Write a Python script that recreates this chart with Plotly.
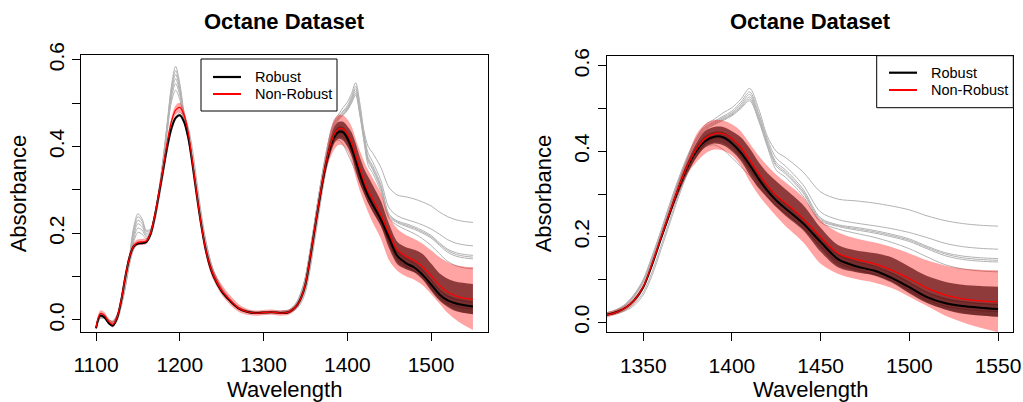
import plotly.graph_objects as go

# ---------------- data ----------------
WAVELENGTH = [1100, 1105, 1110, 1115, 1120, 1125, 1130, 1135, 1140, 1145,
              1150, 1155, 1160, 1165, 1170, 1175, 1180, 1185, 1190, 1195,
              1200, 1205, 1210, 1215, 1220, 1225, 1230, 1235, 1240, 1250,
              1260, 1270, 1280, 1290, 1300, 1310, 1320, 1330, 1335, 1340,
              1345, 1350, 1355, 1360, 1365, 1370, 1375, 1380, 1385, 1390,
              1395, 1400, 1405, 1410, 1415, 1420, 1425, 1430, 1440, 1450,
              1460, 1470, 1480, 1490, 1500, 1510, 1520, 1530, 1540, 1550]

ROBUST_MEAN = [-0.019, 0.010, 0.006, -0.007, -0.013, 0.004, 0.045, 0.100, 0.145, 0.170,
               0.176, 0.177, 0.180, 0.198, 0.238, 0.290, 0.345, 0.400, 0.442, 0.466,
               0.472, 0.457, 0.421, 0.360, 0.290, 0.225, 0.170, 0.130, 0.102, 0.066,
               0.044, 0.027, 0.019, 0.016, 0.017, 0.018, 0.016, 0.018, 0.024, 0.034,
               0.052, 0.082, 0.135, 0.196, 0.256, 0.314, 0.364, 0.401, 0.424, 0.434,
               0.433, 0.419, 0.397, 0.368, 0.336, 0.308, 0.285, 0.267, 0.232, 0.188,
               0.147, 0.131, 0.121, 0.104, 0.082, 0.059, 0.045, 0.038, 0.034, 0.031]

NONROBUST_MEAN = [-0.017, 0.015, 0.011, -0.003, -0.010, 0.006, 0.046, 0.100, 0.145, 0.171,
                  0.179, 0.180, 0.182, 0.200, 0.240, 0.293, 0.350, 0.410, 0.458, 0.484,
                  0.490, 0.473, 0.432, 0.366, 0.293, 0.226, 0.171, 0.131, 0.104, 0.068,
                  0.046, 0.028, 0.019, 0.016, 0.017, 0.018, 0.016, 0.018, 0.024, 0.034,
                  0.052, 0.083, 0.137, 0.198, 0.258, 0.316, 0.367, 0.405, 0.430, 0.441,
                  0.441, 0.430, 0.410, 0.380, 0.349, 0.321, 0.297, 0.280, 0.243, 0.200,
                  0.161, 0.147, 0.137, 0.122, 0.102, 0.080, 0.064, 0.055, 0.050, 0.048]

NONROBUST_UPPER = [-0.010, 0.022, 0.018, 0.004, -0.003, 0.013, 0.053, 0.107, 0.152, 0.178,
                   0.186, 0.187, 0.189, 0.207, 0.247, 0.300, 0.357, 0.418, 0.467, 0.495,
                   0.501, 0.484, 0.442, 0.376, 0.303, 0.236, 0.182, 0.143, 0.116, 0.082,
                   0.057, 0.037, 0.026, 0.022, 0.023, 0.024, 0.022, 0.024, 0.030, 0.040,
                   0.059, 0.090, 0.145, 0.207, 0.269, 0.331, 0.387, 0.440, 0.464, 0.473,
                   0.472, 0.463, 0.447, 0.418, 0.390, 0.366, 0.345, 0.328, 0.293, 0.238,
                   0.210, 0.196, 0.187, 0.176, 0.161, 0.145, 0.133, 0.126, 0.123, 0.122]

NONROBUST_LOWER = [-0.024, 0.008, 0.004, -0.010, -0.017, -0.001, 0.039, 0.093, 0.138, 0.164,
                   0.172, 0.173, 0.175, 0.193, 0.233, 0.286, 0.343, 0.402, 0.449, 0.473,
                   0.479, 0.462, 0.422, 0.356, 0.283, 0.216, 0.160, 0.119, 0.092, 0.058,
                   0.035, 0.019, 0.012, 0.010, 0.011, 0.012, 0.010, 0.012, 0.018, 0.028,
                   0.045, 0.076, 0.129, 0.189, 0.247, 0.301, 0.347, 0.375, 0.395, 0.404,
                   0.402, 0.390, 0.366, 0.330, 0.298, 0.272, 0.248, 0.226, 0.188, 0.137,
                   0.113, 0.101, 0.093, 0.080, 0.060, 0.038, 0.016, 0.000, -0.013, -0.023]

BAND_WL = [1360, 1365, 1370, 1375, 1380, 1385, 1390, 1395, 1400, 1405,
           1410, 1415, 1420, 1425, 1430, 1440, 1450, 1460, 1470, 1480,
           1490, 1500, 1510, 1520, 1530, 1540, 1550]

ROBUST_OUTER_UPPER = [0.200, 0.262, 0.323, 0.377, 0.420, 0.448, 0.457, 0.457, 0.447, 0.433,
                      0.407, 0.375, 0.349, 0.330, 0.312, 0.275, 0.221, 0.180, 0.168, 0.162,
                      0.152, 0.130, 0.108, 0.095, 0.088, 0.085, 0.083]
ROBUST_OUTER_LOWER = [0.191, 0.249, 0.303, 0.350, 0.385, 0.410, 0.418, 0.414, 0.400, 0.378,
                      0.344, 0.314, 0.291, 0.269, 0.250, 0.216, 0.165, 0.128, 0.117, 0.110,
                      0.094, 0.068, 0.045, 0.030, 0.020, 0.016, 0.013]
ROBUST_INNER_UPPER = [0.199, 0.260, 0.319, 0.370, 0.412, 0.437, 0.446, 0.445, 0.432, 0.410,
                      0.381, 0.349, 0.321, 0.298, 0.280, 0.245, 0.201, 0.160, 0.144, 0.133,
                      0.117, 0.095, 0.072, 0.058, 0.050, 0.046, 0.044]
ROBUST_INNER_LOWER = [0.193, 0.252, 0.308, 0.356, 0.392, 0.413, 0.421, 0.419, 0.405, 0.383,
                      0.352, 0.320, 0.295, 0.272, 0.254, 0.219, 0.172, 0.132, 0.119, 0.109,
                      0.092, 0.068, 0.046, 0.031, 0.022, 0.016, 0.013]

SPECTRUM_1 = [-0.015, 0.005, 0.006, 0.000, -0.002, 0.012, 0.038, 0.080, 0.148, 0.215,
              0.245, 0.233, 0.207, 0.210, 0.245, 0.300, 0.372, 0.455, 0.540, 0.585,
              0.545, 0.478, 0.430, 0.370, 0.305, 0.243, 0.190, 0.148, 0.115, 0.074,
              0.048, 0.030, 0.022, 0.019, 0.019, 0.020, 0.020, 0.023, 0.030, 0.043,
              0.066, 0.100, 0.155, 0.215, 0.278, 0.337, 0.390, 0.432, 0.462, 0.475,
              0.490, 0.502, 0.522, 0.547, 0.500, 0.435, 0.400, 0.386, 0.352, 0.305,
              0.288, 0.284, 0.279, 0.272, 0.263, 0.249, 0.238, 0.231, 0.227, 0.225]
SPECTRUM_2 = [-0.016, 0.004, 0.006, 0.000, -0.003, 0.011, 0.037, 0.080, 0.146, 0.208,
              0.238, 0.228, 0.204, 0.208, 0.243, 0.298, 0.370, 0.452, 0.533, 0.575,
              0.538, 0.474, 0.428, 0.368, 0.303, 0.241, 0.188, 0.147, 0.114, 0.073,
              0.047, 0.030, 0.022, 0.019, 0.019, 0.020, 0.020, 0.023, 0.030, 0.042,
              0.065, 0.099, 0.153, 0.213, 0.276, 0.335, 0.388, 0.430, 0.458, 0.470,
              0.482, 0.494, 0.515, 0.539, 0.490, 0.428, 0.384, 0.366, 0.322, 0.258,
              0.240, 0.232, 0.226, 0.219, 0.210, 0.198, 0.185, 0.177, 0.173, 0.171]
SPECTRUM_3 = [-0.016, 0.005, 0.005, -0.001, -0.004, 0.010, 0.036, 0.078, 0.143, 0.202,
              0.230, 0.222, 0.200, 0.205, 0.241, 0.296, 0.367, 0.448, 0.527, 0.566,
              0.532, 0.470, 0.425, 0.366, 0.301, 0.240, 0.187, 0.146, 0.113, 0.073,
              0.047, 0.029, 0.021, 0.019, 0.019, 0.019, 0.019, 0.022, 0.029, 0.041,
              0.064, 0.098, 0.152, 0.212, 0.275, 0.334, 0.386, 0.428, 0.456, 0.468,
              0.479, 0.490, 0.510, 0.533, 0.484, 0.422, 0.374, 0.357, 0.312, 0.244,
              0.228, 0.222, 0.215, 0.206, 0.195, 0.178, 0.163, 0.155, 0.151, 0.149]
SPECTRUM_4 = [-0.017, 0.004, 0.005, -0.001, -0.004, 0.009, 0.035, 0.078, 0.140, 0.195,
              0.222, 0.215, 0.196, 0.202, 0.238, 0.293, 0.364, 0.444, 0.520, 0.556,
              0.525, 0.466, 0.422, 0.364, 0.300, 0.239, 0.186, 0.145, 0.112, 0.072,
              0.046, 0.029, 0.021, 0.018, 0.018, 0.019, 0.019, 0.022, 0.028, 0.040,
              0.063, 0.096, 0.150, 0.210, 0.273, 0.332, 0.384, 0.426, 0.454, 0.466,
              0.476, 0.487, 0.506, 0.527, 0.479, 0.418, 0.369, 0.352, 0.307, 0.241,
              0.226, 0.219, 0.212, 0.203, 0.192, 0.175, 0.160, 0.151, 0.147, 0.145]
SPECTRUM_5 = [-0.017, 0.004, 0.004, -0.002, -0.005, 0.008, 0.034, 0.079, 0.138, 0.188,
              0.212, 0.207, 0.192, 0.200, 0.236, 0.291, 0.361, 0.440, 0.512, 0.545,
              0.518, 0.462, 0.419, 0.362, 0.298, 0.237, 0.185, 0.144, 0.111, 0.072,
              0.046, 0.029, 0.021, 0.018, 0.018, 0.019, 0.019, 0.022, 0.028, 0.040,
              0.062, 0.095, 0.149, 0.209, 0.272, 0.331, 0.383, 0.425, 0.452, 0.464,
              0.474, 0.485, 0.503, 0.522, 0.475, 0.414, 0.365, 0.348, 0.303, 0.238,
              0.224, 0.216, 0.209, 0.200, 0.189, 0.172, 0.156, 0.147, 0.143, 0.141]
SPECTRUM_6 = [-0.018, 0.004, 0.004, -0.002, -0.006, 0.007, 0.034, 0.080, 0.137, 0.180,
              0.202, 0.198, 0.188, 0.198, 0.234, 0.289, 0.358, 0.435, 0.503, 0.530,
              0.508, 0.458, 0.416, 0.360, 0.297, 0.236, 0.184, 0.143, 0.111, 0.071,
              0.046, 0.028, 0.020, 0.018, 0.018, 0.018, 0.018, 0.021, 0.027, 0.039,
              0.061, 0.094, 0.148, 0.208, 0.271, 0.330, 0.382, 0.424, 0.450, 0.462,
              0.472, 0.483, 0.500, 0.518, 0.472, 0.410, 0.356, 0.340, 0.296, 0.234,
              0.218, 0.208, 0.199, 0.187, 0.172, 0.153, 0.135, 0.125, 0.120, 0.118]
SPECTRUM_7 = [-0.020, 0.008, 0.004, -0.009, -0.014, 0.000, 0.035, 0.085, 0.135, 0.165,
              0.175, 0.176, 0.178, 0.192, 0.228, 0.278, 0.333, 0.390, 0.435, 0.462,
              0.470, 0.462, 0.435, 0.380, 0.310, 0.242, 0.185, 0.140, 0.108, 0.070,
              0.046, 0.028, 0.019, 0.016, 0.016, 0.017, 0.016, 0.017, 0.021, 0.029,
              0.044, 0.070, 0.118, 0.178, 0.240, 0.300, 0.352, 0.390, 0.410, 0.415,
              0.404, 0.385, 0.364, 0.343, 0.318, 0.294, 0.272, 0.255, 0.222, 0.178,
              0.140, 0.124, 0.113, 0.097, 0.075, 0.052, 0.038, 0.031, 0.027, 0.025]
SPECTRUM_8 = [-0.017, 0.012, 0.009, -0.004, -0.010, 0.008, 0.050, 0.105, 0.150, 0.173,
              0.178, 0.179, 0.183, 0.204, 0.245, 0.298, 0.352, 0.405, 0.445, 0.468,
              0.474, 0.460, 0.425, 0.366, 0.298, 0.232, 0.178, 0.137, 0.108, 0.072,
              0.047, 0.029, 0.020, 0.017, 0.018, 0.019, 0.018, 0.020, 0.027, 0.040,
              0.062, 0.096, 0.150, 0.210, 0.270, 0.326, 0.372, 0.408, 0.432, 0.443,
              0.443, 0.430, 0.408, 0.378, 0.346, 0.318, 0.295, 0.277, 0.243, 0.198,
              0.158, 0.142, 0.132, 0.115, 0.093, 0.070, 0.055, 0.048, 0.044, 0.041]
SPECTRUM_9 = [-0.020, 0.006, 0.007, -0.005, -0.012, -0.002, 0.030, 0.075, 0.128, 0.163,
              0.176, 0.178, 0.181, 0.194, 0.228, 0.280, 0.338, 0.395, 0.440, 0.467,
              0.478, 0.470, 0.445, 0.395, 0.325, 0.255, 0.195, 0.148, 0.113, 0.073,
              0.048, 0.030, 0.021, 0.018, 0.018, 0.018, 0.017, 0.017, 0.020, 0.027,
              0.040, 0.064, 0.110, 0.170, 0.232, 0.294, 0.348, 0.390, 0.418, 0.430,
              0.430, 0.415, 0.390, 0.360, 0.330, 0.305, 0.283, 0.265, 0.228, 0.185,
              0.146, 0.130, 0.120, 0.103, 0.080, 0.057, 0.043, 0.036, 0.032, 0.029]

SPECTRA = [SPECTRUM_7, SPECTRUM_8, SPECTRUM_9,
           SPECTRUM_6, SPECTRUM_5, SPECTRUM_4, SPECTRUM_3, SPECTRUM_2, SPECTRUM_1]

TITLE = "Octane Dataset"
X_LABEL = "Wavelength"
Y_LABEL = "Absorbance"
LEGEND_LABELS = ["Robust", "Non-Robust"]
LEFT_XTICKS = [1100, 1200, 1300, 1400, 1500]
RIGHT_XTICKS = [1350, 1400, 1450, 1500, 1550]
Y_TICKS = [0.0, 0.1, 0.2, 0.3, 0.4, 0.5, 0.6]
Y_TICKTEXT = ["0.0", "", "0.2", "", "0.4", "", "0.6"]

for arr in [ROBUST_MEAN, NONROBUST_MEAN, NONROBUST_UPPER, NONROBUST_LOWER] + SPECTRA:
    assert len(arr) == len(WAVELENGTH), len(arr)
for arr in [ROBUST_OUTER_UPPER, ROBUST_OUTER_LOWER, ROBUST_INNER_UPPER, ROBUST_INNER_LOWER]:
    assert len(arr) == len(BAND_WL), len(arr)

# ---------------- figure ----------------
W, H = 1023, 402
FONT = "Liberation Sans, Arial, Helvetica, sans-serif"
GRAY = "rgb(178,178,178)"
PINK = "rgba(255,0,0,0.36)"
MAROON = "rgba(80,0,0,0.64)"
DARK = "rgba(30,0,0,0.22)"


def px(x):
    return x / W


def py(y):
    return 1 - y / H


fig = go.Figure()


def spline(width, color):
    return dict(color=color, width=width, shape="spline", smoothing=0.9)


def add_panel(xa, ya):
    common = dict(xaxis=xa, yaxis=ya, mode="lines", showlegend=False, hoverinfo="skip")
    for s in SPECTRA:
        fig.add_trace(go.Scatter(x=WAVELENGTH, y=s, line=spline(1, GRAY), **common))
    fig.add_trace(go.Scatter(x=WAVELENGTH, y=NONROBUST_UPPER, line=spline(0, PINK), **common))
    fig.add_trace(go.Scatter(x=WAVELENGTH, y=NONROBUST_LOWER, line=spline(0, PINK),
                             fill="tonexty", fillcolor=PINK, **common))
    fig.add_trace(go.Scatter(x=BAND_WL, y=ROBUST_OUTER_UPPER, line=spline(0, MAROON), **common))
    fig.add_trace(go.Scatter(x=BAND_WL, y=ROBUST_OUTER_LOWER, line=spline(0, MAROON),
                             fill="tonexty", fillcolor=MAROON, **common))
    fig.add_trace(go.Scatter(x=BAND_WL, y=ROBUST_INNER_UPPER, line=spline(0, DARK), **common))
    fig.add_trace(go.Scatter(x=BAND_WL, y=ROBUST_INNER_LOWER, line=spline(0, DARK),
                             fill="tonexty", fillcolor=DARK, **common))
    fig.add_trace(go.Scatter(x=WAVELENGTH, y=ROBUST_MEAN, line=spline(2.0, "black"), **common))
    fig.add_trace(go.Scatter(x=WAVELENGTH, y=NONROBUST_MEAN, line=spline(1.3, "red"), **common))


add_panel("x", "y")
add_panel("x2", "y2")

axis_common = dict(showline=True, linecolor="black", linewidth=1, mirror=True,
                   ticks="outside", ticklen=8, tickwidth=1, tickcolor="black",
                   showgrid=False, zeroline=False, automargin=False,
                   tickfont=dict(family=FONT, size=21, color="black"))

fig.update_layout(
    width=W, height=H,
    margin=dict(l=0, r=0, t=0, b=0, autoexpand=False),
    paper_bgcolor="white", plot_bgcolor="white",
    xaxis=dict(domain=[px(81), px(488)], range=[1082, 1568], tickvals=LEFT_XTICKS,
               anchor="y", ticklabelstandoff=6, **axis_common),
    yaxis=dict(domain=[py(332), py(55)], range=[-0.0277, 0.611], tickvals=Y_TICKS,
               ticktext=Y_TICKTEXT, tickangle=-90, anchor="x", **axis_common),
    xaxis2=dict(domain=[px(606.7), px(1013.3)], range=[1329.4, 1558.6], tickvals=RIGHT_XTICKS,
                anchor="y2", ticklabelstandoff=6, **axis_common),
    yaxis2=dict(domain=[py(332.3), py(55.7)], range=[-0.0234, 0.6236], tickvals=Y_TICKS,
                ticktext=Y_TICKTEXT, tickangle=-90, anchor="x2", **axis_common),
)

annotations = []
shapes = []
for cx, ylab_x in [(284.5, 18.3), (810.0, 543.3)]:
    annotations.append(dict(text="<b>" + TITLE + "</b>", x=px(cx), y=py(21), xref="paper", yref="paper",
                            xanchor="center", yanchor="middle", showarrow=False,
                            font=dict(family=FONT, size=22, color="black")))
    annotations.append(dict(text=X_LABEL, x=px(cx), y=py(389), xref="paper", yref="paper",
                            xanchor="center", yanchor="middle", showarrow=False,
                            font=dict(family=FONT, size=22, color="black")))
    annotations.append(dict(text=Y_LABEL, x=px(ylab_x), y=py(194), xref="paper", yref="paper",
                            xanchor="center", yanchor="middle", showarrow=False, textangle=-90,
                            font=dict(family=FONT, size=22, color="black")))

# legends (R-style boxes)
for (bx0, bx1, by0, by1, lx0, lx1, ly1, ly2, tx) in [
        (201, 337, 59, 111, 213, 241, 77, 94, 253),
        (876.7, 1013.3, 55.7, 107.7, 889, 917, 72.7, 90, 929)]:
    shapes.append(dict(type="rect", xref="paper", yref="paper", x0=px(bx0), x1=px(bx1),
                       y0=py(by1), y1=py(by0), line=dict(color="black", width=1),
                       fillcolor="white", layer="above"))
    for ly, col, wd in [(ly1, "black", 2.2), (ly2, "red", 2)]:
        shapes.append(dict(type="line", xref="paper", yref="paper", x0=px(lx0), x1=px(lx1),
                           y0=py(ly), y1=py(ly), line=dict(color=col, width=wd), layer="above"))
    for ly, lab in [(ly1, LEGEND_LABELS[0]), (ly2, LEGEND_LABELS[1])]:
        annotations.append(dict(text=lab, x=px(tx), y=py(ly), xref="paper", yref="paper",
                                xanchor="left", yanchor="middle", showarrow=False,
                                font=dict(family=FONT, size=14.5, color="black")))

fig.update_layout(annotations=annotations, shapes=shapes)
fig.write_html("out.html")
